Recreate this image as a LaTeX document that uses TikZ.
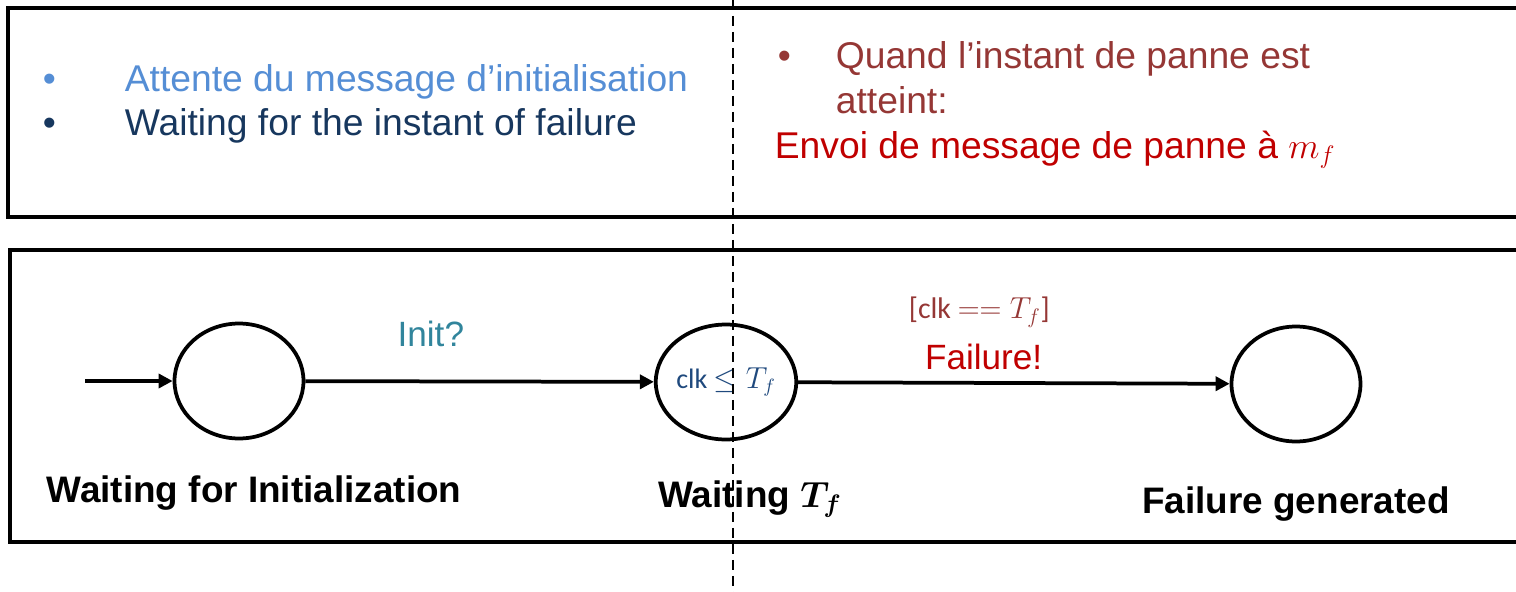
\documentclass[tikz,border=0pt]{standalone}
\usepackage{amsmath}
\usepackage{fontspec}
\setmainfont{Liberation Sans}
\newfontfamily\calibri{Carlito}
\usetikzlibrary{positioning,arrows.meta,shapes.geometric}
\definecolor{lightblue}{HTML}{558ED5}
\definecolor{navyblue}{HTML}{17375E}
\definecolor{brick}{HTML}{953735}
\definecolor{failred}{HTML}{C00000}
\definecolor{initteal}{HTML}{31859C}
\definecolor{clkblue}{HTML}{1F497D}
\tikzset{
  >={Triangle[length=0.28cm, width=0.28cm]},
  state/.style={ellipse, draw=black, line width=0.075cm, minimum width=2.58cm, minimum height=2.3cm, inner sep=0pt},
  panel/.style={draw=black, line width=0.08cm},
  item/.style={anchor=base west, inner sep=0pt, font=\fontsize{21.2}{25}\selectfont},
  statename/.style={anchor=base, inner sep=0pt, font=\fontsize{21}{25}\selectfont\bfseries},
  trans/.style={anchor=base, inner sep=0pt, font=\fontsize{20}{24}\selectfont}
}

\begin{document}
\begin{tikzpicture}[x=0.02cm, y=-0.02cm, line width=0.075cm]
  \path[use as bounding box] (0,0) rectangle (1516,592);
  \clip (0,0) rectangle (1516,592);
  % Panels
  \draw[panel] (8,8) rectangle (1560,217);
  \draw[panel] (10,250) rectangle (1560,542);

  % Top panel texts
  \node (attente) [item, text=lightblue] at (41,91) {\makebox[1.64cm][l]{•}Attente du message d’initialisation};
  \node (waitinst) [item, text=navyblue] at (41,135) {\makebox[1.64cm][l]{•}Waiting for the instant of failure};
  \node (quand) [item, text=brick] at (776,68) {\makebox[1.16cm][l]{•}Quand l’instant de panne est};
  \node (atteint) [item, text=brick] at (834,113) {atteint:};
  \node (envoi) [item, text=failred] at (773,158) {Envoi de message de panne à $m_f$};

  % States
  \coordinate (start) at (85,381);
  \node (init) [state] at (239,381) {};
  \node (waitf) [state] at (726,382) {\calibri\fontsize{16}{19}\selectfont\color{clkblue}clk $\leq T_f$};
  \node (failgen) [state] at (1296,384) {};

  \node (initname) [statename] at (254,502) {Waiting for Initialization};
  \node (waitfname) [statename] at (750,507) {Waiting $\boldsymbol{T_f}$};
  \node (failgenname) [statename] at (1296,513) {Failure generated};

  % Transitions
  \draw[->] (start) -- (init);
  \draw[->] (init) -- node[trans, pos=0.36, yshift=0.7cm, text=initteal] (initlbl) {Init?} (waitf);
  \draw[->] (waitf) -- node[trans, pos=0.43, yshift=0.26cm, text=failred] (faillbl) {Failure!}
    node[trans, pos=0.42, yshift=1.28cm, text=brick, font=\calibri\fontsize{17}{20}\selectfont] (guardlbl) {[clk $== T_f$]} (failgen);

  % Separation line
  \coordinate (cuttop) at (733,0);
  \coordinate (cutbot) at (733,592);
  \draw[dash pattern=on 0.2cm off 0.12cm, line width=0.04cm] (cuttop) -- (cutbot);
\end{tikzpicture}
\end{document}
